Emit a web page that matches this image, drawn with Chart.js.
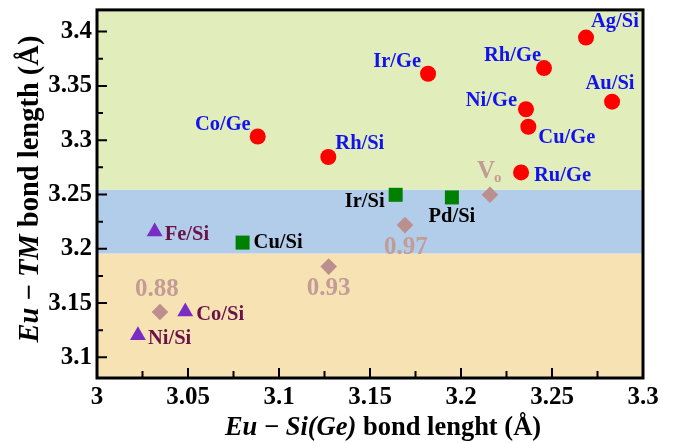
<!DOCTYPE html>
<html>
<head>
<meta charset="utf-8">
<script src="https://cdn.jsdelivr.net/npm/chart.js@4.4.1/dist/chart.umd.min.js"></script>
<style>
  html, body { margin: 0; padding: 0; background: #fff; }
  #wrap { width: 675px; height: 443px; }
</style>
</head>
<body>
<div id="wrap"><canvas id="chart"></canvas></div>
<script>
'use strict';

// red circles: Eu-TM vs Eu-Si(Ge) bond lengths, in Å
var circleNames = ['Ag/Si', 'Rh/Ge', 'Ir/Ge', 'Au/Si', 'Ni/Ge', 'Cu/Ge', 'Ru/Ge', 'Co/Ge', 'Rh/Si']
var circleX = [3.2687, 3.2456, 3.1819, 3.2830, 3.2357, 3.2370, 3.2330, 3.0883, 3.1271]
var circleY = [3.3945, 3.3664, 3.3612, 3.3355, 3.3285, 3.3124, 3.2703, 3.3034, 3.2845]

// green squares
var squareNames = ['Ir/Si', 'Pd/Si', 'Cu/Si']
var squareX = [3.1641, 3.1950, 3.0800]
var squareY = [3.2497, 3.2473, 3.2057]

// purple triangles
var triangleNames = ['Fe/Si', 'Co/Si', 'Ni/Si']
var triangleX = [3.0317, 3.0485, 3.0225]
var triangleY = [3.2157, 3.1421, 3.1203]

// diamonds (V marks the vacancy point, shown as V with subscript o)
var diamondNames = ['0.88', '0.93', '0.97', 'V']
var diamondX = [3.0346, 3.1273, 3.1692, 3.2159]
var diamondY = [3.1418, 3.1836, 3.2218, 3.2497]

// axes
var xMin = 3, xMax = 3.3, xStep = 0.05
var yMin = 3.081, yMax = 3.42, yStep = 0.05

// shaded regions, lower and upper limit between the three bands
var bandLimits = [3.1957, 3.2545]

var serif = "'Liberation Serif', 'Times New Roman', serif"

var bandColors = ['#f7e2b3', '#b1cde9', '#e1eebb']

// where each label sits next to its point: [align, dx, dy]
var labelPlace = {
    'Ag/Si': ['left', 5, -16],
    'Rh/Ge': ['right', -3, -12],
    'Ir/Ge': ['right', -7, -12],
    'Au/Si': ['center', -2, -18],
    'Ni/Ge': ['right', -9, -9],
    'Cu/Ge': ['left', 10, 11],
    'Ru/Ge': ['left', 13, 3],
    'Co/Ge': ['right', -7, -12],
    'Rh/Si': ['left', 7, -13],
    'Ir/Si': ['right', -11, 7],
    'Pd/Si': ['center', 0, 19],
    'Cu/Si': ['left', 11, 0],
    'Fe/Si': ['left', 10, 3],
    'Co/Si': ['left', 11, 3],
    'Ni/Si': ['left', 10, 3],
    '0.88': ['center', -3, -22],
    '0.93': ['center', 0, 22],
    '0.97': ['center', 1, 22],
    'V': ['center', -4, -23],
}

function toPoints(xs, ys) {
    var pts = []
    for (var i = 0; i < xs.length; i++) {
        pts.push({ x: xs[i], y: ys[i] })
    }
    return pts
}

function tickText(v) {
    return String(+v.toFixed(2))
}

function drawLabels(chart, dsIndex, names, color, font) {
    var ctx = chart.ctx
    var meta = chart.getDatasetMeta(dsIndex)
    ctx.fillStyle = color
    ctx.textBaseline = 'middle'
    meta.data.forEach(function (pt, i) {
        var name = names[i]
        var p = labelPlace[name]
        ctx.font = font
        ctx.textAlign = p[0]
        ctx.fillText(name, pt.x + p[1], pt.y + p[2])
        if (name == 'V') {
            var w = ctx.measureText('V').width
            ctx.font = 'bold 15px ' + serif
            ctx.textAlign = 'left'
            ctx.fillText('o', pt.x + p[1] + w / 2 - 1, pt.y + p[2] + 6)
        }
    })
}

function drawRich(ctx, parts, size) {
    var total = 0
    parts.forEach(function (p) {
        ctx.font = (p[1] ? 'italic ' : '') + 'bold ' + size + 'px ' + serif
        total += ctx.measureText(p[0]).width
    })
    var x = -total / 2
    ctx.textAlign = 'left'
    ctx.textBaseline = 'middle'
    parts.forEach(function (p) {
        ctx.font = (p[1] ? 'italic ' : '') + 'bold ' + size + 'px ' + serif
        ctx.fillText(p[0], x, 0)
        x += ctx.measureText(p[0]).width
    })
}

var framePlugin = {
    id: 'frame',
    beforeDatasetsDraw: function (chart) {
        var ctx = chart.ctx, a = chart.chartArea, ys = chart.scales.y
        var yLow = ys.getPixelForValue(bandLimits[0])
        var yHigh = ys.getPixelForValue(bandLimits[1])
        ctx.save()
        ctx.fillStyle = bandColors[0]
        ctx.fillRect(a.left, yLow, a.width, a.bottom - yLow)
        ctx.fillStyle = bandColors[1]
        ctx.fillRect(a.left, yHigh, a.width, yLow - yHigh)
        ctx.fillStyle = bandColors[2]
        ctx.fillRect(a.left, a.top, a.width, yHigh - a.top)
        ctx.restore()
    },
    afterDatasetsDraw: function (chart) {
        var ctx = chart.ctx, a = chart.chartArea
        var xs = chart.scales.x, ys = chart.scales.y
        ctx.save()

        drawLabels(chart, 0, circleNames, '#1212ee', 'bold 20.5px ' + serif)
        drawLabels(chart, 1, squareNames, '#000000', 'bold 20.5px ' + serif)
        drawLabels(chart, 2, triangleNames, '#6a1248', 'bold 20.5px ' + serif)
        drawLabels(chart, 3, diamondNames, '#c39c97', 'bold 25px ' + serif)

        // inward ticks, major and minor
        ctx.strokeStyle = '#000'
        ctx.lineWidth = 2
        ctx.beginPath()
        for (var v = xMin; v <= xMax + 1e-9; v += xStep / 2) {
            var px = xs.getPixelForValue(v)
            var major = Math.abs(Math.round(v / xStep) * xStep - v) < 1e-6
            ctx.moveTo(px, a.bottom)
            ctx.lineTo(px, a.bottom - (major ? 10 : 7))
        }
        for (var u = 3.075; u <= yMax; u += yStep / 2) {
            if (u < yMin) continue
            var py = ys.getPixelForValue(u)
            var majorY = Math.abs(Math.round(u / yStep) * yStep - u) < 1e-6
            ctx.moveTo(a.left, py)
            ctx.lineTo(a.left + (majorY ? 10 : 6), py)
        }
        ctx.stroke()

        ctx.lineWidth = 3
        ctx.strokeRect(a.left, a.top, a.width, a.height)
        ctx.restore()
    },
    afterDraw: function (chart) {
        var ctx = chart.ctx
        ctx.save()
        ctx.fillStyle = '#000'
        ctx.translate(383, 428)
        drawRich(ctx, [['Eu', true], [' \u2212 ', false], ['Si(Ge)', true], [' bond lenght (\u00c5)', false]], 26.5)
        ctx.restore()

        ctx.save()
        ctx.fillStyle = '#000'
        ctx.translate(31, 189)
        ctx.rotate(-Math.PI / 2)
        drawRich(ctx, [['Eu', true], [' \u2212 ', false], ['TM', true], [' bond length (\u00c5)', false]], 28.5)
        ctx.restore()
    }
}

new Chart(document.getElementById('chart'), {
    type: 'scatter',
    data: {
        datasets: [{
            data: toPoints(circleX, circleY),
            pointStyle: 'circle',
            pointRadius: 8,
            backgroundColor: '#ff0000',
            borderWidth: 0
        }, {
            data: toPoints(squareX, squareY),
            pointStyle: 'rect',
            pointRadius: 9.9,
            backgroundColor: '#008000',
            borderWidth: 0
        }, {
            data: toPoints(triangleX, triangleY),
            pointStyle: 'triangle',
            pointRadius: 9.2,
            backgroundColor: '#7b2cc4',
            borderWidth: 0
        }, {
            data: toPoints(diamondX, diamondY),
            pointStyle: 'rectRot',
            pointRadius: 8.3,
            backgroundColor: '#bc8f8f',
            borderWidth: 0
        }]
    },
    options: {
        responsive: true,
        maintainAspectRatio: false,
        animation: false,
        events: [],
        layout: { padding: { top: 6, right: 32, left: 0, bottom: 0 } },
        plugins: {
            legend: { display: false },
            tooltip: { enabled: false }
        },
        scales: {
            x: {
                type: 'linear',
                min: xMin,
                max: xMax,
                grid: { display: false, drawTicks: false },
                border: { display: false },
                ticks: {
                    stepSize: xStep,
                    padding: 5,
                    color: '#000',
                    font: { family: serif, size: 25, weight: 'bold' },
                    callback: tickText
                },
                afterFit: function (scale) {
                    scale.height = 65
                    scale.paddingLeft = 0
                    scale.paddingRight = 0
                }
            },
            y: {
                type: 'linear',
                min: yMin,
                max: yMax,
                grid: { display: false, drawTicks: false },
                border: { display: false },
                ticks: {
                    stepSize: yStep,
                    includeBounds: false,
                    padding: 5,
                    color: '#000',
                    font: { family: serif, size: 25, weight: 'bold' },
                    callback: tickText
                },
                afterFit: function (scale) {
                    scale.width = 97
                    scale.paddingTop = 0
                    scale.paddingBottom = 0
                }
            }
        }
    },
    plugins: [framePlugin]
})
</script>
</body>
</html>
